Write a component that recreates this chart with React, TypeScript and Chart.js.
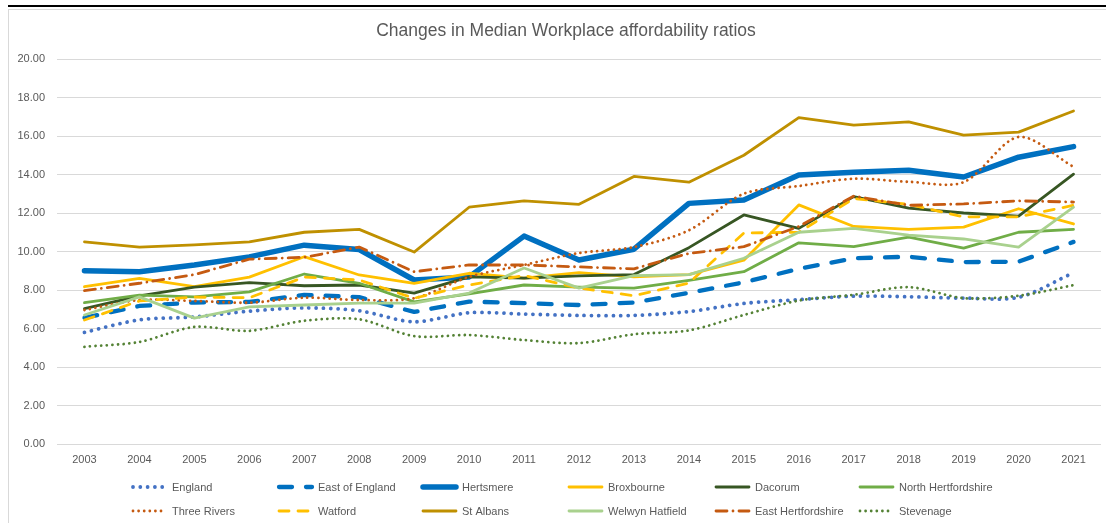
import React, { useEffect, useRef } from 'react';
import { Chart, registerables } from 'chart.js';

Chart.register(...registerables);

const FONT = "'Liberation Sans', Arial, sans-serif";
const TEXT = '#595959';

const titleText = 'Changes in Median Workplace affordability ratios';

const years = ['2003', '2004', '2005', '2006', '2007', '2008', '2009', '2010', '2011', '2012', '2013', '2014', '2015', '2016', '2017', '2018', '2019', '2020', '2021'];

const yTicks = [0, 2, 4, 6, 8, 10, 12, 14, 16, 18, 20];

const england = [5.8, 6.45, 6.6, 6.9, 7.07, 6.92, 6.35, 6.82, 6.75, 6.68, 6.68, 6.88, 7.3, 7.5, 7.68, 7.65, 7.58, 7.62, 8.9];
const eastOfEngland = [6.55, 7.17, 7.35, 7.38, 7.75, 7.63, 6.86, 7.4, 7.32, 7.22, 7.35, 7.85, 8.4, 9.1, 9.65, 9.73, 9.45, 9.47, 10.5];
const hertsmere = [9.0, 8.95, 9.3, 9.72, 10.33, 10.1, 8.52, 8.68, 10.8, 9.56, 10.12, 12.5, 12.68, 13.97, 14.12, 14.22, 13.87, 14.9, 15.45];
const broxbourne = [8.17, 8.6, 8.17, 8.67, 9.73, 8.78, 8.35, 8.87, 8.62, 8.9, 8.68, 8.8, 9.55, 12.42, 11.3, 11.15, 11.27, 12.22, 11.43];
const dacorum = [7.03, 7.69, 8.15, 8.38, 8.22, 8.26, 7.84, 8.68, 8.62, 8.73, 8.8, 10.2, 11.9, 11.2, 12.85, 12.25, 12.0, 11.84, 14.02];
const northHerts = [7.34, 7.73, 7.64, 7.9, 8.83, 8.35, 7.38, 7.8, 8.26, 8.15, 8.1, 8.5, 8.95, 10.45, 10.25, 10.75, 10.18, 11.0, 11.15];
const threeRivers = [6.96, 7.48, 7.43, 7.34, 7.6, 7.48, 7.57, 8.68, 9.3, 9.92, 10.23, 11.1, 13.0, 13.4, 13.78, 13.62, 13.6, 15.95, 14.4];
const watford = [6.44, 7.43, 7.63, 7.6, 8.67, 8.52, 7.57, 8.26, 8.75, 8.1, 7.7, 8.36, 10.96, 11.0, 12.75, 12.45, 11.8, 11.8, 12.4];
const stAlbans = [10.5, 10.23, 10.34, 10.5, 11.0, 11.15, 9.97, 12.3, 12.63, 12.45, 13.9, 13.6, 15.0, 16.95, 16.57, 16.73, 16.05, 16.2, 17.3];
const welwynHatfield = [6.7, 7.64, 6.54, 7.12, 7.22, 7.32, 7.32, 7.84, 9.14, 8.1, 8.75, 8.8, 9.65, 11.0, 11.2, 10.85, 10.65, 10.23, 12.3];
const eastHerts = [7.97, 8.35, 8.8, 9.6, 9.7, 10.23, 8.95, 9.3, 9.3, 9.2, 9.1, 9.9, 10.25, 11.3, 12.88, 12.4, 12.47, 12.63, 12.57];
const stevenage = [5.05, 5.3, 6.08, 5.88, 6.4, 6.48, 5.6, 5.66, 5.4, 5.24, 5.7, 5.9, 6.7, 7.45, 7.75, 8.15, 7.58, 7.7, 8.25];

type Style = { color: string; width: number; dash: number[]; cap: CanvasLineCap; tension: number };

const series: { label: string; data: number[]; style: Style }[] = [
  { label: 'England', data: england, style: { color: '#4472C4', width: 3.8, dash: [0.001, 7.3], cap: 'round', tension: 0.3 } },
  { label: 'East of England', data: eastOfEngland, style: { color: '#0070C0', width: 4.3, dash: [13, 14], cap: 'round', tension: 0 } },
  { label: 'Hertsmere', data: hertsmere, style: { color: '#0070C0', width: 5.5, dash: [], cap: 'round', tension: 0 } },
  { label: 'Broxbourne', data: broxbourne, style: { color: '#FFC000', width: 2.8, dash: [], cap: 'round', tension: 0 } },
  { label: 'Dacorum', data: dacorum, style: { color: '#375623', width: 2.8, dash: [], cap: 'round', tension: 0 } },
  { label: 'North Hertfordshire', data: northHerts, style: { color: '#70AD47', width: 2.8, dash: [], cap: 'round', tension: 0 } },
  { label: 'Three Rivers', data: threeRivers, style: { color: '#C55A11', width: 2.8, dash: [0.001, 5.6], cap: 'round', tension: 0.3 } },
  { label: 'Watford', data: watford, style: { color: '#FFC000', width: 2.8, dash: [10, 9], cap: 'round', tension: 0 } },
  { label: 'St Albans', data: stAlbans, style: { color: '#BF9000', width: 2.8, dash: [], cap: 'round', tension: 0 } },
  { label: 'Welwyn Hatfield', data: welwynHatfield, style: { color: '#A9D18E', width: 2.8, dash: [], cap: 'round', tension: 0 } },
  { label: 'East Hertfordshire', data: eastHerts, style: { color: '#C55A11', width: 2.8, dash: [11, 6, 0.001, 6], cap: 'round', tension: 0 } },
  { label: 'Stevenage', data: stevenage, style: { color: '#548235', width: 2.8, dash: [0.001, 5.6], cap: 'round', tension: 0.3 } },
];

const legendCols = [132, 278, 422, 568, 715, 859];
const legendRows = [487, 511];

const excelTitle = {
  id: 'excelTitle',
  afterDraw(chart: any) {
    const ctx: CanvasRenderingContext2D = chart.ctx;
    ctx.save();
    ctx.fillStyle = TEXT;
    ctx.font = `17.5px ${FONT}`;
    ctx.textAlign = 'center';
    ctx.textBaseline = 'middle';
    ctx.fillText(titleText, 566, 31);
    ctx.restore();
  },
};

const excelLegend = {
  id: 'excelLegend',
  afterDraw(chart: any) {
    const ctx: CanvasRenderingContext2D = chart.ctx;
    chart.data.datasets.forEach((ds: any, i: number) => {
      const x = legendCols[i % 6];
      const y = legendRows[Math.floor(i / 6)];
      ctx.save();
      ctx.strokeStyle = ds.borderColor;
      ctx.lineWidth = ds.borderWidth;
      ctx.lineCap = ds.borderCapStyle;
      ctx.setLineDash(ds.borderDash || []);
      ctx.beginPath();
      ctx.moveTo(x + 1, y);
      ctx.lineTo(x + 34, y);
      ctx.stroke();
      ctx.setLineDash([]);
      ctx.fillStyle = TEXT;
      ctx.font = `11px ${FONT}`;
      ctx.textBaseline = 'middle';
      ctx.textAlign = 'left';
      ctx.fillText(ds.label, x + 40, y + 0.5);
      ctx.restore();
    });
  },
};

export default function App() {
  const ref = useRef<HTMLCanvasElement | null>(null);

  useEffect(() => {
    if (!ref.current) return;
    const n = series.length;
    const chart = new Chart(ref.current, {
      type: 'line',
      data: {
        labels: years,
        datasets: series.map((s, i) => ({
          label: s.label,
          data: s.data,
          borderColor: s.style.color,
          backgroundColor: s.style.color,
          borderWidth: s.style.width,
          borderDash: s.style.dash,
          borderCapStyle: s.style.cap,
          borderJoinStyle: 'round',
          tension: s.style.tension,
          pointRadius: 0,
          pointHoverRadius: 0,
          fill: false,
          order: n - i,
        })),
      },
      options: {
        responsive: false,
        animation: false,
        devicePixelRatio: 1,
        layout: { padding: { left: 0, right: 5, top: 59, bottom: 53 } },
        plugins: {
          legend: { display: false },
          tooltip: { enabled: false },
          title: { display: false },
        },
        scales: {
          x: {
            offset: true,
            grid: { display: false, drawTicks: false },
            border: { display: false },
            ticks: { color: TEXT, font: { family: FONT, size: 11 }, padding: 9, maxRotation: 0, autoSkip: false },
            afterFit: (s: any) => { s.height = 26; },
          },
          y: {
            min: 0,
            max: 20,
            afterBuildTicks: (s: any) => { s.ticks = yTicks.map((v) => ({ value: v })); },
            grid: { color: '#D9D9D9', lineWidth: 1, drawTicks: false },
            border: { display: false },
            ticks: {
              color: TEXT,
              font: { family: FONT, size: 11 },
              padding: 12,
              callback: (v: any) => Number(v).toFixed(2),
            },
            afterFit: (s: any) => { s.width = 57; },
          },
        },
      },
      plugins: [excelTitle, excelLegend],
    });
    return () => chart.destroy();
  }, []);

  return (
    <div style={{ position: 'fixed', left: 0, top: 0, width: 1106, height: 523, background: '#fff', overflow: 'hidden' }}>
      <div style={{ position: 'absolute', left: 8, top: 5, width: 1098, height: 2, background: '#000' }} />
      <div style={{ position: 'absolute', left: 8, top: 9, width: 1120, height: 530, border: '1px solid #D9D9D9', boxSizing: 'border-box' }} />
      <canvas ref={ref} width={1106} height={523} style={{ position: 'absolute', left: 0, top: 0, width: 1106, height: 523 }} />
    </div>
  );
}
